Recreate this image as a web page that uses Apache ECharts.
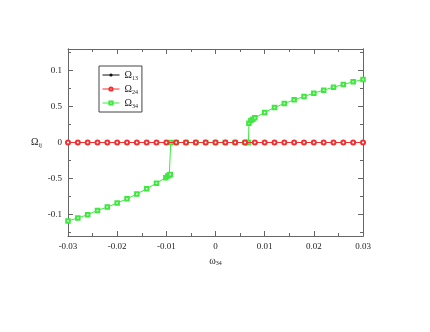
<!DOCTYPE html>
<html>
<head>
<meta charset="utf-8">
<script src="https://cdn.jsdelivr.net/npm/echarts@6/dist/echarts.min.js"></script>
<style>
  html, body { margin: 0; padding: 0; background: #fff; }
  #chart { width: 430px; height: 332px; }
</style>
</head>
<body>
<div id="chart"></div>
<script>
// omega_34 sweep, step 0.002
let sweepX = [-0.03, -0.028, -0.026, -0.024, -0.022, -0.02, -0.018, -0.016, -0.014, -0.012, -0.01,
    -0.008, -0.006, -0.004, -0.002, 0, 0.002, 0.004, 0.006, 0.008, 0.01,
    0.012, 0.014, 0.016, 0.018, 0.02, 0.022, 0.024, 0.026, 0.028, 0.03];
let omega13 = [0, 0, 0, 0, 0, 0, 0, 0, 0, 0, 0, 0, 0, 0, 0, 0, 0, 0, 0, 0, 0, 0, 0, 0, 0, 0, 0, 0, 0, 0, 0];
let omega24 = [0, 0, 0, 0, 0, 0, 0, 0, 0, 0, 0, 0, 0, 0, 0, 0, 0, 0, 0, 0, 0, 0, 0, 0, 0, 0, 0, 0, 0, 0, 0];

// Omega_34 has its own (denser near the jumps) x points
let omega34X = [-0.03, -0.028, -0.026, -0.024, -0.022, -0.02, -0.018, -0.016, -0.014, -0.012, -0.0101,
    -0.0097, -0.0094, -0.0092, -0.0091, -0.008, -0.006, -0.004, -0.002, 0, 0.002, 0.004, 0.006,
    0.0064, 0.0067, 0.0068, 0.0072, 0.0076, 0.008, 0.01, 0.012, 0.014, 0.016, 0.018, 0.02,
    0.022, 0.024, 0.026, 0.028, 0.03];
let omega34 = [-0.109, -0.105, -0.1004, -0.0944, -0.0898, -0.0842, -0.0782, -0.0717, -0.0643, -0.0565, -0.049,
    -0.0467, -0.0453, -0.0444, 0, 0, 0, 0, 0, 0, 0, 0, 0,
    0, 0, 0.0269, 0.0306, 0.0325, 0.0343, 0.0417, 0.0486, 0.0542, 0.0593, 0.0639, 0.0686,
    0.0728, 0.0769, 0.0806, 0.0843, 0.0875];

let yMajor = [-0.1, -0.05, 0, 0.05, 0.1];
let yMinor = [-0.125, -0.075, -0.025, 0.025, 0.075, 0.125];
let yLabels = {'-0.1': '-0.1', '-0.05': '-0.5', '0': '0', '0.05': '0.5', '0.1': '0.1'};

let chart = echarts.init(document.getElementById('chart'));

const serif = 'Liberation Serif';
const axisColor = '#666';

function pairs(xs, ys) {
    let out = [];
    for (let i = 0; i < xs.length; i++) out.push([xs[i], ys[i]]);
    return out;
}

function yAxisOf(pos, ticks, len, showLabel) {
    return {
        type: 'value',
        position: pos,
        min: -0.13,
        max: 0.13,
        axisLine: {show: true, onZero: false, lineStyle: {color: axisColor, width: 1}},
        axisTick: {show: true, inside: true, length: len, customValues: ticks,
            lineStyle: {color: axisColor}},
        axisLabel: {show: showLabel, customValues: ticks, fontFamily: serif, fontSize: 9, color: '#222', margin: 6,
            formatter: function (v) { return yLabels[String(Math.round(v * 1000) / 1000)]; }},
        splitLine: {show: false}
    };
}

function xAxisOf(pos, showLabel) {
    return {
        type: 'value',
        position: pos,
        min: -0.03,
        max: 0.03,
        interval: 0.01,
        axisLine: {show: true, onZero: false, lineStyle: {color: axisColor, width: 1}},
        axisTick: {show: true, inside: true, length: 5, lineStyle: {color: axisColor}},
        minorTick: {show: true, splitNumber: 2, length: 3, lineStyle: {color: axisColor}},
        axisLabel: {show: showLabel, fontFamily: serif, fontSize: 9, color: '#222', margin: 6,
            formatter: function (v) { return v === 0 ? '0' : v.toFixed(2); }},
        splitLine: {show: false},
        minorSplitLine: {show: false}
    };
}

let subRich = {
    o: {fontFamily: serif, fontSize: 10, color: '#222'},
    s: {fontFamily: serif, fontSize: 6, color: '#222', padding: [6, 0, 0, 0]}
};

let option = {
    animation: false,
    grid: {left: 68, right: 67, top: 49, bottom: 96},
    legend: {
        orient: 'vertical',
        left: 99,
        top: 66,
        padding: [4, 4, 3, 3],
        itemGap: 3,
        itemWidth: 17,
        itemHeight: 4,
        borderColor: '#444',
        borderWidth: 1,
        borderRadius: 0,
        lineStyle: {width: 1},
        textStyle: {fontFamily: serif, rich: subRich},
        formatter: function (name) { return '{o|Ω}{s|' + name.slice(1) + '}'; },
        data: ['Ω13', 'Ω24', 'Ω34']
    },
    xAxis: [
        Object.assign(xAxisOf('bottom', true), {
            name: '{o|ω}{s|34}', nameLocation: 'middle', nameGap: 13,
            nameTextStyle: {rich: subRich}
        }),
        xAxisOf('top', false)
    ],
    yAxis: [
        Object.assign(yAxisOf('left', yMajor, 5, true), {
            name: '{o|Ω}{s|ij}', nameLocation: 'middle', nameRotate: 0, nameGap: 24,
            nameTextStyle: {rich: subRich}
        }),
        yAxisOf('left', yMinor, 3, false),
        yAxisOf('right', yMajor, 5, false),
        yAxisOf('right', yMinor, 3, false)
    ],
    series: [
        {
            name: 'Ω13',
            type: 'line',
            data: pairs(sweepX, omega13),
            color: '#111',
            symbol: 'circle',
            symbolSize: 2.5,
            lineStyle: {width: 1},
            z: 2
        },
        {
            name: 'Ω34',
            type: 'line',
            data: pairs(omega34X, omega34),
            color: '#3fe83f',
            symbol: 'emptyRect',
            symbolSize: 3.5,
            itemStyle: {borderWidth: 1},
            lineStyle: {width: 1},
            z: 3
        },
        {
            name: 'Ω24',
            type: 'line',
            data: pairs(sweepX, omega24),
            color: '#f03030',
            symbol: 'emptyCircle',
            symbolSize: 4,
            itemStyle: {borderWidth: 1},
            lineStyle: {width: 1.2},
            z: 4
        }
    ]
};
chart.setOption(option);
window.addEventListener('resize', function () {chart.resize();});
</script>
</body>
</html>
